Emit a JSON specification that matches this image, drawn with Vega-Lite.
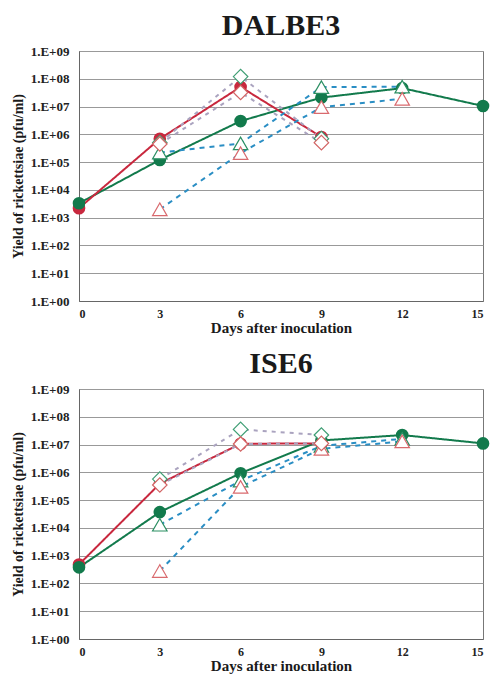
{
  "$schema": "https://vega.github.io/schema/vega-lite/v6.json",
  "background": "white",
  "padding": {"left": 10, "top": 10, "right": 4, "bottom": 0},
  "spacing": 12,
  "config": {
    "font": "Liberation Serif",
    "view": {"stroke": "#777", "strokeWidth": 1},
    "title": {"font": "Liberation Serif", "fontSize": 30, "fontWeight": "bold", "color": "#1a1a1a", "anchor": "middle", "offset": 0},
    "axis": {
      "labelFont": "Liberation Serif", "labelFontWeight": "bold", "labelFontSize": 12, "labelColor": "#222",
      "titleFont": "Liberation Serif", "titleFontWeight": "bold", "titleColor": "#1a1a1a",
      "domainColor": "#666", "ticks": false, "gridColor": "#999", "gridWidth": 1
    }
  },
  "datasets": {
    "obs": [
      {"panel": "DALBE3", "series": "S1-M1", "day": 0, "pfu": 3300},
      {"panel": "DALBE3", "series": "S1-M1", "day": 3, "pfu": 120000},
      {"panel": "DALBE3", "series": "S1-M1", "day": 6, "pfu": 3000000},
      {"panel": "DALBE3", "series": "S1-M1", "day": 9, "pfu": 21000000},
      {"panel": "DALBE3", "series": "S1-M1", "day": 12, "pfu": 46000000},
      {"panel": "DALBE3", "series": "S1-M1", "day": 15, "pfu": 10500000},
      {"panel": "DALBE3", "series": "S2-M1", "day": 0, "pfu": 2200},
      {"panel": "DALBE3", "series": "S2-M1", "day": 3, "pfu": 690000},
      {"panel": "DALBE3", "series": "S2-M1", "day": 6, "pfu": 51000000},
      {"panel": "DALBE3", "series": "S2-M1", "day": 9, "pfu": 800000},
      {"panel": "DALBE3", "series": "S1-M2", "day": 3, "pfu": 220000},
      {"panel": "DALBE3", "series": "S1-M2", "day": 6, "pfu": 470000},
      {"panel": "DALBE3", "series": "S1-M2", "day": 9, "pfu": 50000000},
      {"panel": "DALBE3", "series": "S1-M2", "day": 12, "pfu": 52000000},
      {"panel": "DALBE3", "series": "S2-M2", "day": 3, "pfu": 2000},
      {"panel": "DALBE3", "series": "S2-M2", "day": 6, "pfu": 210000},
      {"panel": "DALBE3", "series": "S2-M2", "day": 9, "pfu": 9500000},
      {"panel": "DALBE3", "series": "S2-M2", "day": 12, "pfu": 19000000},
      {"panel": "DALBE3", "series": "S1-M3", "day": 3, "pfu": 500000},
      {"panel": "DALBE3", "series": "S1-M3", "day": 6, "pfu": 120000000},
      {"panel": "DALBE3", "series": "S1-M3", "day": 9, "pfu": 700000},
      {"panel": "DALBE3", "series": "S2-M3", "day": 3, "pfu": 450000},
      {"panel": "DALBE3", "series": "S2-M3", "day": 6, "pfu": 32000000},
      {"panel": "DALBE3", "series": "S2-M3", "day": 9, "pfu": 500000},
      {"panel": "ISE6", "series": "S1-M1", "day": 0, "pfu": 380},
      {"panel": "ISE6", "series": "S1-M1", "day": 3, "pfu": 37000},
      {"panel": "ISE6", "series": "S1-M1", "day": 6, "pfu": 930000},
      {"panel": "ISE6", "series": "S1-M1", "day": 9, "pfu": 14000000},
      {"panel": "ISE6", "series": "S1-M1", "day": 12, "pfu": 22000000},
      {"panel": "ISE6", "series": "S1-M1", "day": 15, "pfu": 11000000},
      {"panel": "ISE6", "series": "S2-M1", "day": 0, "pfu": 480},
      {"panel": "ISE6", "series": "S2-M1", "day": 3, "pfu": 390000},
      {"panel": "ISE6", "series": "S2-M1", "day": 6, "pfu": 10700000},
      {"panel": "ISE6", "series": "S2-M1", "day": 9, "pfu": 11000000},
      {"panel": "ISE6", "series": "S1-M2", "day": 3, "pfu": 13000},
      {"panel": "ISE6", "series": "S1-M2", "day": 6, "pfu": 500000},
      {"panel": "ISE6", "series": "S1-M2", "day": 9, "pfu": 9000000},
      {"panel": "ISE6", "series": "S1-M2", "day": 12, "pfu": 16000000},
      {"panel": "ISE6", "series": "S2-M2", "day": 3, "pfu": 280},
      {"panel": "ISE6", "series": "S2-M2", "day": 6, "pfu": 300000},
      {"panel": "ISE6", "series": "S2-M2", "day": 9, "pfu": 7000000},
      {"panel": "ISE6", "series": "S2-M2", "day": 12, "pfu": 13000000},
      {"panel": "ISE6", "series": "S1-M3", "day": 3, "pfu": 570000},
      {"panel": "ISE6", "series": "S1-M3", "day": 6, "pfu": 35000000},
      {"panel": "ISE6", "series": "S1-M3", "day": 9, "pfu": 22000000},
      {"panel": "ISE6", "series": "S2-M3", "day": 3, "pfu": 350000},
      {"panel": "ISE6", "series": "S2-M3", "day": 6, "pfu": 10500000},
      {"panel": "ISE6", "series": "S2-M3", "day": 9, "pfu": 11000000}
    ]
  },
  "vconcat": [
    {
      "title": "DALBE3",
      "width": 404, "height": 250,
      "data": {"name": "obs"},
      "transform": [{"filter": "datum.panel === 'DALBE3'"}],
      "encoding": {
        "x": {"field": "day", "type": "quantitative", "scale": {"domain": [0, 15], "nice": false},
              "axis": {"values": [0, 3, 6, 9, 12, 15], "title": "Days after inoculation", "titleFontSize": 15, "labelPadding": 7, "titlePadding": 1, "grid": false}},
        "y": {"field": "pfu", "type": "quantitative", "scale": {"type": "log", "domain": [1, 1000000000], "nice": false},
              "axis": {"values": [1, 10, 100, 1000, 10000, 100000, 1000000, 10000000, 100000000, 1000000000],
                       "labelExpr": "'1.E+0' + round(log(datum.value) / LN10)", "labelFontSize": 13, "title": "Yield of rickettsiae (pfu/ml)", "titleFontSize": 14, "labelPadding": 10, "titlePadding": 5, "grid": true}}
      },
      "layer": [
        {"mark": {"type": "line"},
         "encoding": {
           "color": {"field": "series", "type": "nominal", "legend": null,
                     "scale": {"domain": ["S1-M1", "S2-M1", "S1-M2", "S2-M2", "S1-M3", "S2-M3"], "range": ["#127a4c", "#c8283e", "#2a8ec4", "#2a8ec4", "#aaa3bf", "#aaa3bf"]}},
           "strokeDash": {"field": "series", "type": "nominal", "legend": null,
                     "scale": {"domain": ["S1-M1", "S2-M1", "S1-M2", "S2-M2", "S1-M3", "S2-M3"], "range": [[1, 0], [1, 0], [5, 5], [5, 5], [4, 5], [4, 5]]}},
           "strokeWidth": {"field": "series", "type": "nominal", "legend": null,
                     "scale": {"domain": ["S1-M1", "S2-M1", "S1-M2", "S2-M2", "S1-M3", "S2-M3"], "range": [2, 2, 3, 3, 2, 2]}}
         }},
        {"transform": [{"filter": "datum.series === 'S1-M1' || datum.series === 'S2-M1'"}],
         "mark": {"type": "point", "shape": "circle", "filled": true, "size": 160, "opacity": 1},
         "encoding": {"fill": {"field": "series", "type": "nominal", "legend": null,
                     "scale": {"domain": ["S1-M1", "S2-M1"], "range": ["#127a4c", "#c8283e"]}},
                     "order": {"field": "series", "sort": "descending"}}},
        {"transform": [{"filter": "datum.series !== 'S1-M1' && datum.series !== 'S2-M1'"}],
         "mark": {"type": "point", "filled": true, "fill": "white", "size": 210, "opacity": 1, "strokeWidth": 1.2},
         "encoding": {
           "shape": {"field": "series", "type": "nominal", "legend": null,
                     "scale": {"domain": ["S1-M2", "S2-M2", "S1-M3", "S2-M3"], "range": ["triangle-up", "triangle-up", "diamond", "diamond"]}},
           "stroke": {"field": "series", "type": "nominal", "legend": null,
                     "scale": {"domain": ["S1-M2", "S2-M2", "S1-M3", "S2-M3"], "range": ["#2b8f63", "#d96a6e", "#3f9e74", "#d36565"]}}
         }}
      ]
    },
    {
      "title": "ISE6",
      "width": 404, "height": 250,
      "data": {"name": "obs"},
      "transform": [{"filter": "datum.panel === 'ISE6'"}],
      "encoding": {
        "x": {"field": "day", "type": "quantitative", "scale": {"domain": [0, 15], "nice": false},
              "axis": {"values": [0, 3, 6, 9, 12, 15], "title": "Days after inoculation", "titleFontSize": 15, "labelPadding": 7, "titlePadding": 1, "grid": false}},
        "y": {"field": "pfu", "type": "quantitative", "scale": {"type": "log", "domain": [1, 1000000000], "nice": false},
              "axis": {"values": [1, 10, 100, 1000, 10000, 100000, 1000000, 10000000, 100000000, 1000000000],
                       "labelExpr": "'1.E+0' + round(log(datum.value) / LN10)", "labelFontSize": 13, "title": "Yield of rickettsiae (pfu/ml)", "titleFontSize": 14, "labelPadding": 10, "titlePadding": 5, "grid": true}}
      },
      "layer": [
        {"mark": {"type": "line"},
         "encoding": {
           "color": {"field": "series", "type": "nominal", "legend": null,
                     "scale": {"domain": ["S1-M1", "S2-M1", "S1-M2", "S2-M2", "S1-M3", "S2-M3"], "range": ["#127a4c", "#c8283e", "#2a8ec4", "#2a8ec4", "#aaa3bf", "#aaa3bf"]}},
           "strokeDash": {"field": "series", "type": "nominal", "legend": null,
                     "scale": {"domain": ["S1-M1", "S2-M1", "S1-M2", "S2-M2", "S1-M3", "S2-M3"], "range": [[1, 0], [1, 0], [5, 5], [5, 5], [4, 5], [4, 5]]}},
           "strokeWidth": {"field": "series", "type": "nominal", "legend": null,
                     "scale": {"domain": ["S1-M1", "S2-M1", "S1-M2", "S2-M2", "S1-M3", "S2-M3"], "range": [2, 2, 3, 3, 2, 2]}}
         }},
        {"transform": [{"filter": "datum.series === 'S1-M1' || datum.series === 'S2-M1'"}],
         "mark": {"type": "point", "shape": "circle", "filled": true, "size": 160, "opacity": 1},
         "encoding": {"fill": {"field": "series", "type": "nominal", "legend": null,
                     "scale": {"domain": ["S1-M1", "S2-M1"], "range": ["#127a4c", "#c8283e"]}},
                     "order": {"field": "series", "sort": "descending"}}},
        {"transform": [{"filter": "datum.series !== 'S1-M1' && datum.series !== 'S2-M1'"}],
         "mark": {"type": "point", "filled": true, "fill": "white", "size": 210, "opacity": 1, "strokeWidth": 1.2},
         "encoding": {
           "shape": {"field": "series", "type": "nominal", "legend": null,
                     "scale": {"domain": ["S1-M2", "S2-M2", "S1-M3", "S2-M3"], "range": ["triangle-up", "triangle-up", "diamond", "diamond"]}},
           "stroke": {"field": "series", "type": "nominal", "legend": null,
                     "scale": {"domain": ["S1-M2", "S2-M2", "S1-M3", "S2-M3"], "range": ["#2b8f63", "#d96a6e", "#3f9e74", "#d36565"]}}
         }}
      ]
    }
  ]
}
